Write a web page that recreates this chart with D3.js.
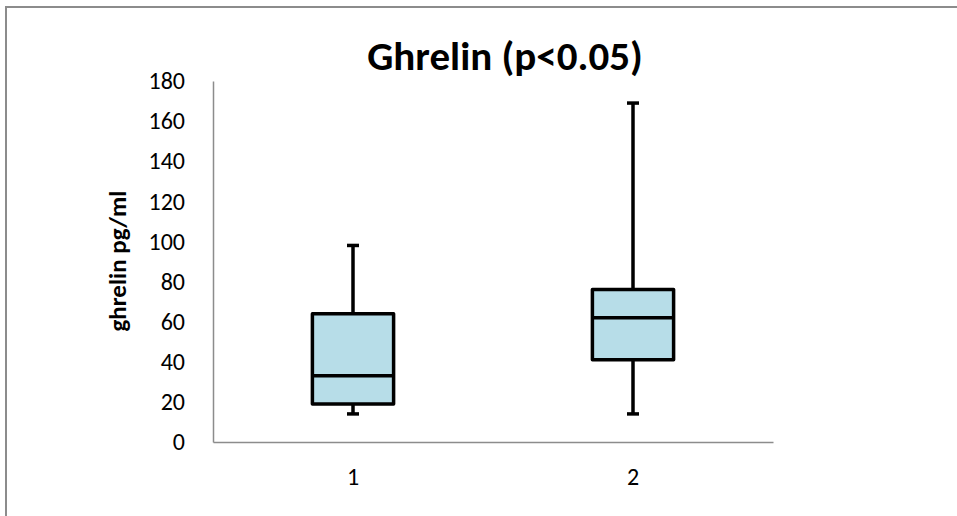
<!DOCTYPE html>
<html>
<head>
<meta charset="utf-8">
<script src="https://cdn.jsdelivr.net/npm/d3@7"></script>
<style>
  html, body { margin: 0; padding: 0; background: #fff; }
  svg { display: block; }
  text { font-family: Carlito, "Liberation Sans Narrow", Lato, "Open Sans", sans-serif; fill: #000; }
</style>
</head>
<body>
<svg id="chart" width="957" height="516"></svg>
<script>
// Ghrelin levels per group: five-number summaries (pg/ml)
const groups   = ["1", "2"];
const whiskLow = [14, 14];
const q1       = [19, 41];
const median   = [33, 62];
const q3       = [64, 76];
const whiskHigh= [98, 169];
const yTicks   = [0, 20, 40, 60, 80, 100, 120, 140, 160, 180];

const titleText = "Ghrelin (p<0.05)";
const yLabel = "ghrelin pg/ml";

const svg = d3.select("#chart");
const W = 957, H = 516;
const margin = { left: 213, right: 184, top: 81, bottom: 74 };
const plotW = W - margin.left - margin.right;
const plotH = H - margin.top - margin.bottom;

// Chart area frame (top-left corner visible)
svg.append("rect")
  .attr("x", 6).attr("y", 7)
  .attr("width", W + 20).attr("height", H + 20)
  .attr("fill", "none")
  .attr("stroke", "#8c8c8c")
  .attr("stroke-width", 2);

const g = svg.append("g").attr("transform", `translate(${margin.left},${margin.top})`);

const x = d3.scaleBand().domain(groups).range([0, plotW]);
const y = d3.scaleLinear().domain([0, 180]).range([plotH, 0]);

// Y axis: labels only, gray spine
const yAxis = g.append("g")
  .call(d3.axisLeft(y).tickValues(yTicks).tickSize(0).tickPadding(28));
yAxis.select(".domain").attr("stroke", "#8c8c8c").attr("stroke-width", 1.5);
yAxis.selectAll("text")
  .style("font-size", "24px")
  .style("font-family", "Carlito, 'Liberation Sans Narrow', Lato, sans-serif")
  .attr("fill", "#000");

// X axis
const xAxis = g.append("g")
  .attr("transform", `translate(0,${plotH})`)
  .call(d3.axisBottom(x).tickSize(0).tickPadding(26));
xAxis.select(".domain").attr("stroke", "#8c8c8c").attr("stroke-width", 1.5);
xAxis.selectAll("text")
  .style("font-size", "24px")
  .style("font-family", "Carlito, 'Liberation Sans Narrow', Lato, sans-serif")
  .attr("fill", "#000");

const data = groups.map((k, i) => ({
  k, lo: whiskLow[i], q1: q1[i], med: median[i], q3: q3[i], hi: whiskHigh[i]
}));

const boxW = x.bandwidth() * 0.29;
const capW = 12;
const sw = 3.5;

const box = g.selectAll(".box").data(data).enter().append("g")
  .attr("transform", d => `translate(${x(d.k) + x.bandwidth() / 2},0)`);

// whiskers
box.append("line")
  .attr("x1", 0).attr("x2", 0)
  .attr("y1", d => y(d.hi)).attr("y2", d => y(d.q3))
  .attr("stroke", "#000").attr("stroke-width", sw);
box.append("line")
  .attr("x1", 0).attr("x2", 0)
  .attr("y1", d => y(d.q1)).attr("y2", d => y(d.lo))
  .attr("stroke", "#000").attr("stroke-width", sw);
// caps
box.append("line")
  .attr("x1", -capW / 2).attr("x2", capW / 2)
  .attr("y1", d => y(d.hi)).attr("y2", d => y(d.hi))
  .attr("stroke", "#000").attr("stroke-width", sw);
box.append("line")
  .attr("x1", -capW / 2).attr("x2", capW / 2)
  .attr("y1", d => y(d.lo)).attr("y2", d => y(d.lo))
  .attr("stroke", "#000").attr("stroke-width", sw);

// box Q1–Q3
box.append("rect")
  .attr("x", -boxW / 2).attr("width", boxW)
  .attr("y", d => y(d.q3)).attr("height", d => y(d.q1) - y(d.q3))
  .attr("fill", "#b7dde8")
  .attr("stroke", "#000").attr("stroke-width", sw)
  .attr("stroke-linejoin", "round");

// median
box.append("line")
  .attr("x1", -boxW / 2).attr("x2", boxW / 2)
  .attr("y1", d => y(d.med)).attr("y2", d => y(d.med))
  .attr("stroke", "#000").attr("stroke-width", sw);

// Title
svg.append("text")
  .attr("x", 505).attr("y", 70)
  .attr("text-anchor", "middle")
  .style("font-size", "41px").style("font-weight", "bold")
  .text(titleText);

// Y axis title
svg.append("text")
  .attr("transform", `translate(126,261) rotate(-90)`)
  .attr("text-anchor", "middle")
  .style("font-size", "25px").style("font-weight", "bold")
  .text(yLabel);
</script>
</body>
</html>
